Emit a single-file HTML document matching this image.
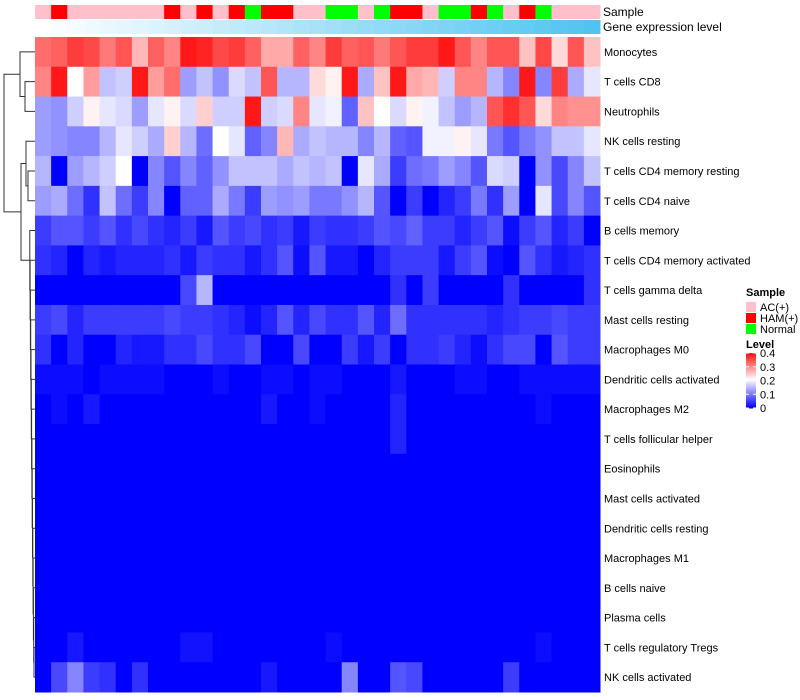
<!DOCTYPE html>
<html><head><meta charset="utf-8">
<style>
html,body{margin:0;padding:0;background:#fff;}
svg{display:block;font-family:"Liberation Sans",sans-serif;}
</style></head>
<body>
<svg id="chart" width="800" height="700" viewBox="0 0 800 700">
<g id="dendro" stroke="#333" stroke-width="1" fill="none"></g>
<g id="annot"></g>
<g id="cells"></g>
<g id="labels"></g>
<text x="603" y="16" font-size="12">Sample</text>
<text x="603" y="31" font-size="12">Gene expression level</text>
<g id="legend"></g>
</svg>
<script>
const rowNames=["Monocytes","T cells CD8","Neutrophils","NK cells resting","T cells CD4 memory resting","T cells CD4 naive","B cells memory","T cells CD4 memory activated","T cells gamma delta","Mast cells resting","Macrophages M0","Dendritic cells activated","Macrophages M2","T cells follicular helper","Eosinophils","Mast cells activated","Dendritic cells resting","Macrophages M1","B cells naive","Plasma cells","T cells regulatory  Tregs","NK cells activated"];
const sampleGroups=["AC(+)","HAM(+)","AC(+)","AC(+)","AC(+)","AC(+)","AC(+)","AC(+)","HAM(+)","AC(+)","HAM(+)","AC(+)","HAM(+)","Normal","HAM(+)","HAM(+)","AC(+)","AC(+)","Normal","Normal","AC(+)","Normal","HAM(+)","HAM(+)","AC(+)","Normal","Normal","HAM(+)","Normal","AC(+)","HAM(+)","Normal","AC(+)","AC(+)","AC(+)"];
const groupNames=["AC(+)","HAM(+)","Normal"];
const levelTicks=[0,0.1,0.2,0.3,0.4];
const r01=[0.33,0.34,0.37,0.36,0.32,0.35,0.27,0.34,0.31,0.40,0.39,0.36,0.37,0.34,0.28,0.28,0.34,0.31,0.37,0.34,0.35,0.32,0.35,0.37,0.37,0.40,0.35,0.31,0.35,0.35,0.26,0.36,0.24,0.35,0.26];
const r02=[0.31,0.40,0.21,0.29,0.16,0.17,0.40,0.29,0.33,0.13,0.16,0.12,0.18,0.16,0.35,0.15,0.15,0.24,0.22,0.40,0.14,0.26,0.40,0.28,0.27,0.17,0.31,0.31,0.15,0.11,0.40,0.11,0.37,0.14,0.19];
const r03=[0.13,0.12,0.17,0.22,0.19,0.18,0.13,0.19,0.22,0.18,0.25,0.17,0.17,0.40,0.17,0.18,0.31,0.19,0.20,0.08,0.26,0.21,0.18,0.22,0.20,0.16,0.13,0.15,0.35,0.38,0.35,0.24,0.31,0.30,0.30];
const r04=[0.13,0.12,0.11,0.11,0.15,0.19,0.17,0.14,0.25,0.15,0.09,0.21,0.19,0.08,0.11,0.27,0.14,0.16,0.15,0.15,0.11,0.15,0.08,0.07,0.20,0.20,0.22,0.19,0.10,0.07,0.10,0.12,0.16,0.16,0.19];
const r05=[0.15,0.00,0.13,0.15,0.17,0.21,0.00,0.11,0.07,0.11,0.08,0.12,0.16,0.16,0.16,0.14,0.16,0.15,0.16,0.00,0.19,0.14,0.05,0.09,0.10,0.13,0.11,0.07,0.18,0.17,0.00,0.12,0.06,0.11,0.16];
const r06=[0.13,0.14,0.09,0.04,0.16,0.09,0.05,0.11,0.00,0.08,0.08,0.14,0.10,0.05,0.13,0.12,0.13,0.10,0.10,0.12,0.15,0.07,0.00,0.05,0.00,0.03,0.05,0.10,0.04,0.13,0.00,0.19,0.06,0.11,0.07];
const r07=[0.05,0.07,0.07,0.05,0.07,0.04,0.06,0.04,0.03,0.05,0.02,0.07,0.05,0.06,0.04,0.05,0.02,0.05,0.04,0.04,0.05,0.07,0.06,0.08,0.05,0.05,0.03,0.05,0.07,0.01,0.05,0.07,0.03,0.05,0.00];
const r08=[0.04,0.03,0.00,0.03,0.02,0.03,0.03,0.03,0.04,0.02,0.05,0.04,0.04,0.02,0.04,0.07,0.01,0.07,0.02,0.02,0.00,0.03,0.05,0.05,0.05,0.02,0.05,0.07,0.01,0.00,0.07,0.04,0.02,0.03,0.04];
const r09=[0,0,0,0,0,0,0,0,0,0.06,0.15,0,0,0,0,0,0,0,0,0,0,0,0.04,0,0.05,0,0,0,0,0.04,0,0,0,0,0.04];
const r10=[0.05,0.06,0.03,0.05,0.05,0.05,0.05,0.05,0.06,0.05,0.05,0.04,0.03,0.01,0.03,0.07,0.03,0.06,0.04,0.04,0.07,0.03,0.09,0.04,0.04,0.04,0.04,0.04,0.03,0.04,0.05,0.05,0.06,0.05,0.05];
const r11=[0.04,0.00,0.03,0.00,0.00,0.03,0.02,0.02,0.04,0.04,0.06,0.04,0.04,0.06,0.00,0.00,0.06,0.00,0.00,0.05,0.02,0.05,0.00,0.04,0.04,0.05,0.03,0.01,0.04,0.06,0.06,0.00,0.07,0.05,0.05];
const r12=[0.01,0.01,0.01,0.00,0.01,0.01,0.01,0.01,0.00,0.00,0.00,0.01,0.00,0.00,0.01,0.01,0.00,0.01,0.01,0.00,0.00,0.00,0.02,0.00,0.00,0.00,0.01,0.01,0.00,0.00,0.01,0.01,0.01,0.01,0.01];
const r13=[0,0.01,0,0.02,0,0,0,0,0,0,0,0,0,0,0.02,0,0,0.01,0,0,0,0,0.03,0,0,0,0,0,0,0,0,0.01,0,0,0];
const r14=[0,0,0,0,0,0,0,0,0,0,0,0,0,0,0,0,0,0,0,0,0,0,0.03,0,0,0,0,0,0,0,0,0,0,0,0];
const r15=[0,0,0,0,0,0,0,0,0,0,0,0,0,0,0,0,0,0,0,0,0,0,0,0,0,0,0,0,0,0,0,0,0,0,0];
const r16=[0,0,0,0,0,0,0,0,0,0,0,0,0,0,0,0,0,0,0,0,0,0,0,0,0,0,0,0,0,0,0,0,0,0,0];
const r17=[0,0,0,0,0,0,0,0,0,0,0,0,0,0,0,0,0,0,0,0,0,0,0,0,0,0,0,0,0,0,0,0,0,0,0];
const r18=[0,0,0,0,0,0,0,0,0,0,0,0,0,0,0,0,0,0,0,0,0,0,0,0,0,0,0,0,0,0,0,0,0,0,0];
const r19=[0,0,0,0,0,0,0,0,0,0,0,0,0,0,0,0,0,0,0,0,0,0,0,0,0,0,0,0,0,0,0,0,0,0,0];
const r20=[0,0,0,0,0,0,0,0,0,0,0,0,0,0,0,0,0,0,0,0,0,0,0,0,0,0,0,0,0,0,0,0,0,0,0];
const r21=[0,0,0.02,0,0,0,0,0,0,0.015,0.015,0,0,0,0,0,0,0,0.01,0,0,0,0,0,0,0,0,0,0,0,0,0.01,0,0,0];
const r22=[0,0.06,0.11,0.05,0.04,0,0.04,0,0,0,0,0,0,0,0.02,0,0,0,0,0.11,0,0,0.07,0.06,0,0,0,0,0,0.05,0,0,0,0,0];
const values=[r01,r02,r03,r04,r05,r06,r07,r08,r09,r10,r11,r12,r13,r14,r15,r16,r17,r18,r19,r20,r21,r22];

const NS="http://www.w3.org/2000/svg";
const X0=35,X1=600,Y0=37,Y1=692;
const nC=sampleGroups.length,nR=rowNames.length;
const cw=(X1-X0)/nC,rh=(Y1-Y0)/nR;
const xS=i=>X0+i*cw, yS=j=>Y0+j*rh;
const VMAX=0.42;
function col(v){
  const t=Math.max(0,Math.min(1,v/VMAX));
  let r,g,b;
  if(t<0.5){const u=t/0.5;r=255*u;g=255*u;b=255;}
  else{const u=(t-0.5)/0.5;r=255;g=255*(1-u);b=255*(1-u);}
  return `rgb(${r|0},${g|0},${b|0})`;
}
const gcol={"AC(+)":"#FFC0CB","HAM(+)":"#FF0000","Normal":"#00FF00"};
function mk(tag,attrs,parent){const e=document.createElementNS(NS,tag);for(const k in attrs)e.setAttribute(k,attrs[k]);parent.appendChild(e);return e;}

const cells=document.getElementById('cells');
values.forEach((row,j)=>row.forEach((v,i)=>{
  const r=mk('rect',{x:xS(i),y:yS(j),width:cw+0.5,height:rh+0.5,fill:col(v)},cells);
  
  
}));
const annot=document.getElementById('annot');
sampleGroups.forEach((g,i)=>{
  const r=mk('rect',{x:xS(i),y:5,width:cw+0.5,height:14,fill:gcol[g]},annot);
  
  
  const t=i/(nC-1);
  const c=`rgb(${Math.round(255-(255-79)*t)},${Math.round(255-(255-196)*t)},${Math.round(255-(255-240)*t)})`;
  const r2=mk('rect',{x:xS(i),y:20,width:cw+0.5,height:14,fill:c},annot);
  
  
});
const labels=document.getElementById('labels');
rowNames.forEach((n,j)=>{
  const t=mk('text',{x:604,y:yS(j)+rh/2+4,'font-size':11,fill:'#000'},labels);
  t.textContent=n;
  
  
});
// dendrogram
const dg=document.getElementById('dendro');
const yc=j=>yS(j)+rh/2;
function link(xl,ya,xa,yb,xb){mk('path',{d:`M${xa},${ya}H${xl}V${yb}H${xb}`},dg);}
link(25,yc(1),35,yc(2),35);
link(20,yc(0),35,(yc(1)+yc(2))/2,25);
link(28,yc(4),35,yc(5),35);
link(26,yc(3),35,(yc(4)+yc(5))/2,28);
let prevY=yc(21),prevX=35;
for(let j=20;j>=6;j--){const xl=34-(20-j)*0.3;link(xl,yc(j),35,prevY,prevX);prevY=(yc(j)+prevY)/2;prevX=xl;}
const Dy=(yc(3)+(yc(4)+yc(5))/2)/2;
link(21,Dy,26,prevY,prevX);
const Ay=(yc(0)+(yc(1)+yc(2))/2)/2, By=(Dy+prevY)/2;
link(4,Ay,20,By,21);
// legend
const lg=document.getElementById('legend');
let t=mk('text',{x:746,y:296,'font-size':11,'font-weight':'bold'},lg);t.textContent='Sample';
groupNames.forEach((g,k)=>{
  const r=mk('rect',{x:746,y:302+k*11,width:10,height:10,fill:gcol[g]},lg);
  
  
  const tt=mk('text',{x:760,y:311+k*11,'font-size':11},lg);tt.textContent=g;
  
  
});
t=mk('text',{x:746,y:348,'font-size':11,'font-weight':'bold'},lg);t.textContent='Level';
const CB0=408,CB1=353;
for(let k=0;k<56;k++){const v=VMAX*0.4/0.42*(k/55);mk('rect',{x:746,y:CB0-(k+1)*(CB0-CB1)/56,width:10,height:(CB0-CB1)/56+0.5,fill:col(v)},lg);}
const ly=v=>CB0-(v/0.4)*(CB0-CB1);
levelTicks.forEach(v=>{
  mk('line',{x1:746,x2:749,y1:ly(v),y2:ly(v),stroke:'#fff'},lg);
  mk('line',{x1:753,x2:756,y1:ly(v),y2:ly(v),stroke:'#fff'},lg);
  const tt=mk('text',{x:760,y:ly(v)+4,'font-size':11},lg);tt.textContent=String(v);
  
  
});
</script>
</body></html>
